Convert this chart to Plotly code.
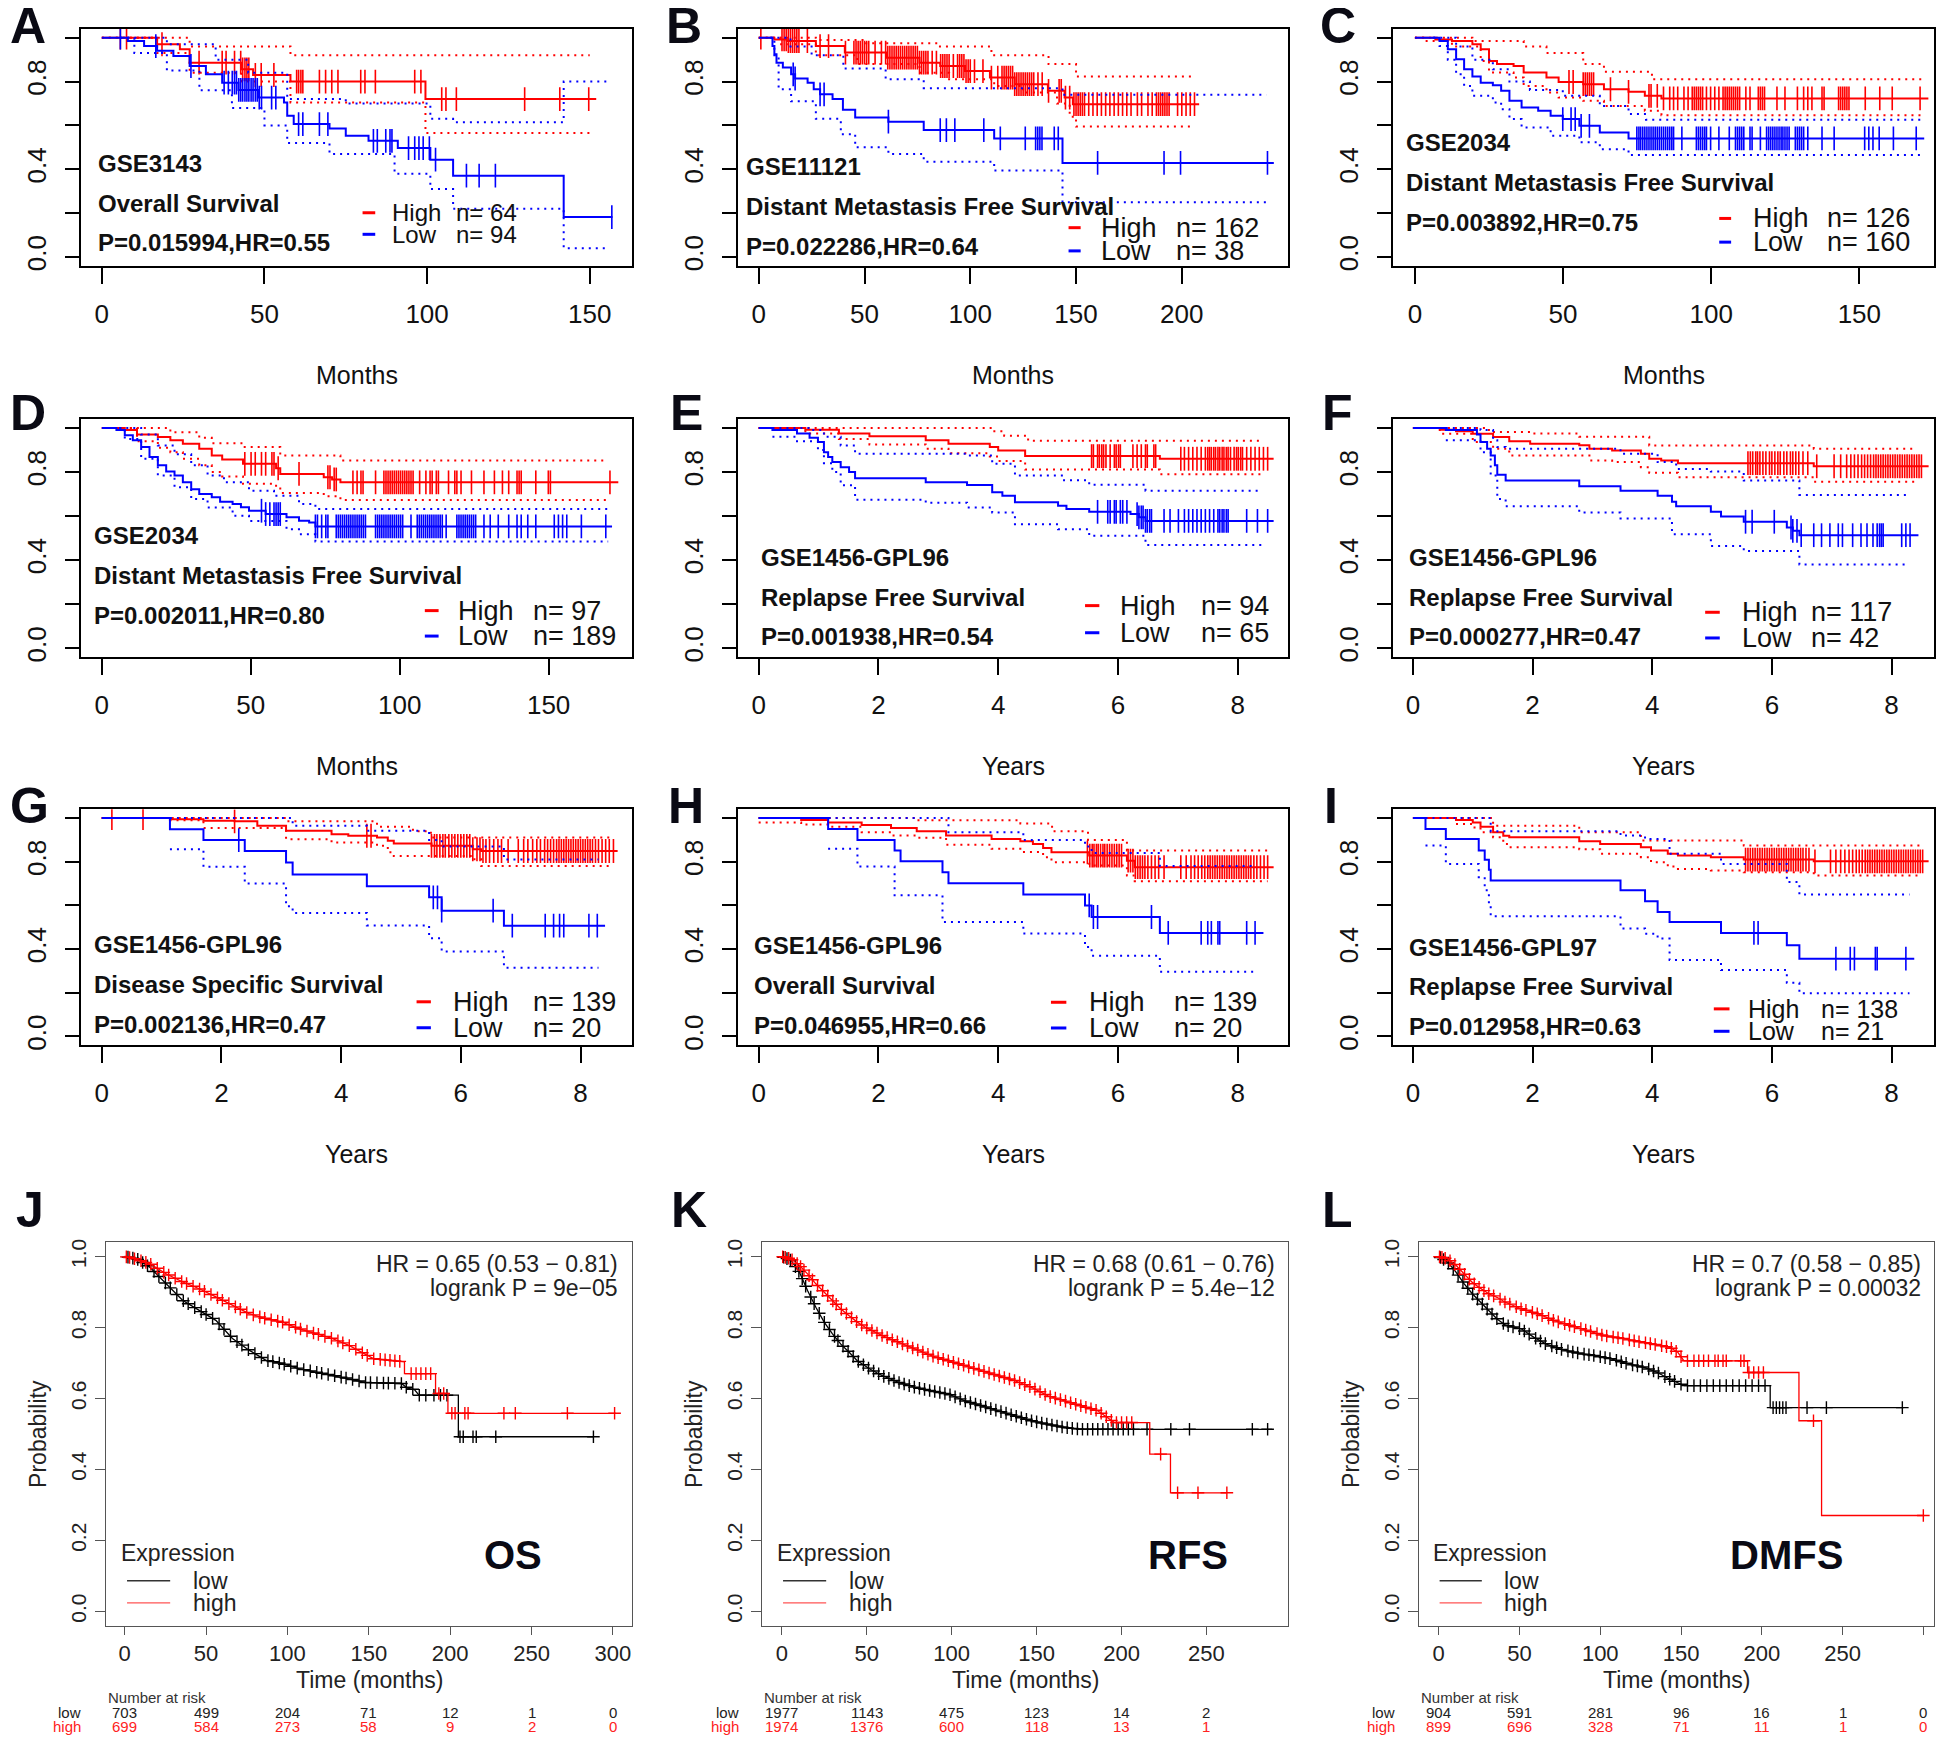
import numpy as np
import plotly.graph_objects as go

# ======================= DATA =======================
# ---- Panel A (GSE3143, months) ----
A_hi_t = [0, 17, 24, 27, 43, 46.5, 58, 99.5, 152]
A_hi_s = [1, 0.97, 0.947, 0.886, 0.856, 0.83, 0.80, 0.72, 0.72]
A_hi_c = [5.7, 7.6, 18.5, 29.9, 37, 38.2, 40.8, 42.7, 43.3, 44, 44.6, 45.2, 47.2, 49, 52.9, 59.9, 60.5, 61.2, 61.8,
          66.9, 68.8, 70.7, 72.6, 79.6, 80.9, 84.1, 96.2, 98.1, 104.5, 105.8, 109, 130, 140.8, 149.7]
A_hi_ut = [0, 27, 58, 150]
A_hi_u = [1, 0.96, 0.92, 0.92]
A_hi_lt = [0, 17, 27, 43, 58, 99.5, 150]
A_hi_l = [1, 0.93, 0.84, 0.80, 0.705, 0.565, 0.565]
A_lo_t = [0, 5.7, 8, 13, 17, 22, 27, 32, 37, 42, 48, 56, 57, 59, 70, 75, 82, 91, 101, 108, 142, 157]
A_lo_s = [1, 1, 0.985, 0.962, 0.94, 0.917, 0.871, 0.833, 0.795, 0.762, 0.727, 0.705, 0.644, 0.606, 0.586, 0.553,
          0.53, 0.497, 0.444, 0.371, 0.182, 0.182]
A_lo_c = [5.7, 16.6, 27.4, 37.6, 38.9, 40.1, 40.8, 41.4, 42.1, 42.7, 43.3, 44, 44.6, 45.2, 45.9, 46.5, 47.2, 47.8,
          48.4, 49.1, 52.2, 53.5, 60.5, 61.8, 66.9, 69.5, 83.5, 84.7, 87.3, 88.6, 89.2, 94.3, 96.2, 97.5, 98.8,
          100.7, 102.6, 112.1, 116, 121, 156.8]
A_lo_ut = [5.7, 20, 35, 45, 57, 75, 101, 108, 142, 156]
A_lo_u = [1, 0.97, 0.9, 0.84, 0.72, 0.70, 0.63, 0.615, 0.80, 0.80]
A_lo_lt = [5.7, 10, 20, 30, 40, 50, 57, 70, 90, 101, 108, 142, 156]
A_lo_l = [1, 0.93, 0.85, 0.76, 0.68, 0.6, 0.52, 0.47, 0.38, 0.31, 0.22, 0.04, 0.04]

# ---- Panel B (GSE11121, months) ----
B_hi_t = [0, 7.4, 13.3, 27, 40.7, 60.3, 76, 85.8, 97.5, 109.3, 121, 136.7, 144.6, 148.5, 208.2]
B_hi_s = [1, 0.992, 0.985, 0.962, 0.932, 0.909, 0.886, 0.871, 0.848, 0.818, 0.788, 0.758, 0.727, 0.697, 0.697]
B_hi_c = [1, 11, 12, 13, 14, 15, 16, 17, 18, 19, 23, 29, 33, 41, 45, 46, 47, 48, 49, 50, 51, 52, 55, 58, 60, 61,
          62, 63, 64, 65, 66, 67, 68, 69, 70, 71, 72, 73, 74, 75, 76, 77, 78, 79, 80, 82, 84, 86, 87, 88, 89, 90,
          92, 94, 95, 96, 97, 98, 99, 100, 102, 106, 110, 113, 115, 116, 117, 118, 119, 120, 121, 122, 123, 124,
          125, 126, 127, 128, 129, 130, 132, 134, 137, 142, 143, 145, 147, 149, 150, 151, 152, 153, 154, 156, 158,
          160, 162, 164, 166, 168, 170, 172, 174, 176, 179, 181, 184, 186, 188, 189, 190, 191, 192, 193, 194, 198,
          200, 202, 204, 206]
B_hi_ut = [0, 27, 50, 85, 110, 137, 150, 205]
B_hi_u = [1, 0.99, 0.975, 0.96, 0.92, 0.88, 0.823, 0.823]
B_hi_lt = [0, 10, 27, 46.6, 76, 90, 111.3, 125, 141, 147, 150, 205]
B_hi_l = [1, 0.97, 0.92, 0.88, 0.84, 0.81, 0.78, 0.75, 0.70, 0.64, 0.595, 0.595]
B_lo_t = [0, 5.5, 6.5, 7.4, 8.4, 11.4, 15.3, 17.2, 23.1, 26, 29, 34.9, 39.8, 45.6, 61.3, 78, 111.3, 143.6, 243.5]
B_lo_s = [1, 1, 0.962, 0.924, 0.886, 0.864, 0.833, 0.814, 0.795, 0.765, 0.742, 0.72, 0.671, 0.636, 0.617, 0.579,
          0.541, 0.429, 0.429]
B_lo_c = [16.3, 17.2, 29, 30.9, 61.3, 85.8, 88.7, 92.7, 106.4, 114.2, 126, 130.9, 131.9, 132.9, 133.9, 139.7,
          141.6, 160.2, 191.6, 199.4, 240.5]
B_lo_ut = [5.5, 15, 25, 40, 60, 78, 143.6, 240]
B_lo_u = [1, 0.96, 0.92, 0.86, 0.81, 0.77, 0.74, 0.74]
B_lo_lt = [5.5, 7.4, 9.4, 15.3, 27, 38.8, 45.6, 61.3, 78, 111.3, 143.6, 240]
B_lo_l = [1, 0.92, 0.765, 0.71, 0.63, 0.56, 0.5, 0.47, 0.435, 0.394, 0.25, 0.25]

# ---- Panel C (GSE2034, months) ----
C_hi_t = [0, 2.8, 6.9, 12.5, 19.4, 22.2, 25, 27.7, 33.3, 36.7, 44.4, 48.5, 56.8, 63.8, 72.1, 77.6, 83.2, 173.3]
C_hi_s = [1, 1, 0.992, 0.985, 0.97, 0.947, 0.894, 0.88, 0.871, 0.841, 0.818, 0.798, 0.788, 0.765, 0.753, 0.735,
          0.723, 0.723]
C_hi_c = [52, 53.4, 56.8, 57.5, 58.2, 58.9, 59.6, 60.3, 66, 72.1, 79, 79.7, 81.8, 83.9, 86, 87.3, 88.7, 90.8, 92.2,
          93.6, 94.3, 95, 95.7, 96.4, 97.1, 98.4, 99.8, 101.2, 102.6, 104, 104.7, 105.4, 106.1, 106.8, 107.5, 108.2,
          108.9, 109.6, 111.7, 113.1, 115.9, 116.6, 117.3, 118, 122.2, 124.9, 129.1, 131.2, 132.6, 134, 137.4,
          138.1, 143, 143.7, 144.4, 145.1, 145.8, 146.5, 152, 156.9, 161.1, 170.5]
C_hi_ut = [0, 19.4, 36.7, 44.4, 56.8, 63.8, 80, 171]
C_hi_u = [1, 0.985, 0.96, 0.93, 0.88, 0.845, 0.81, 0.81]
C_hi_lt = [0, 2.8, 12.5, 22.2, 25, 33.3, 36.7, 44.4, 48.5, 56.8, 63.8, 77.6, 83.2, 171]
C_hi_l = [1, 0.985, 0.96, 0.894, 0.841, 0.818, 0.78, 0.75, 0.727, 0.712, 0.689, 0.667, 0.647, 0.647]
C_lo_t = [0, 6.2, 8.3, 11.1, 13.9, 16.6, 19.4, 22.2, 26.3, 29.1, 31.9, 36, 41.6, 45.8, 49.9, 55.5, 62.4, 72.1, 171.9]
C_lo_s = [1, 1, 0.985, 0.947, 0.902, 0.856, 0.823, 0.795, 0.783, 0.758, 0.712, 0.682, 0.667, 0.644, 0.629, 0.598,
          0.568, 0.541, 0.541]
C_lo_c = [49.9, 52.7, 54.1, 56.1, 58.9, 74.9, 75.6, 76.2, 76.9, 77.6, 78.3, 79, 79.7, 80.4, 81.1, 81.8, 82.5, 83.2,
          83.9, 84.6, 85.3, 86, 86.7, 87.3, 90.1, 95, 95.7, 96.4, 97.1, 97.8, 98.4, 99.8, 102.6, 106.1, 108.2, 108.9,
          109.6, 110.3, 111, 113.1, 113.8, 116.6, 118.7, 119.4, 120.1, 120.8, 121.5, 122.2, 122.9, 123.6, 124.2,
          124.9, 125.6, 126.3, 128.4, 129.1, 129.8, 130.5, 131.2, 132.6, 137.4, 141.5, 151.8, 153.2, 154.6, 156.7,
          161.5, 169.2]
C_lo_ut = [6.2, 13.9, 19.4, 26.3, 31.9, 38.8, 49.9, 62.4, 72.1, 78, 171]
C_lo_u = [1, 0.96, 0.9, 0.856, 0.8, 0.762, 0.735, 0.689, 0.652, 0.626, 0.626]
C_lo_lt = [6.2, 8.3, 11.1, 13.9, 16.6, 19.4, 26.3, 29.1, 31.9, 36, 45.8, 55.5, 62.4, 72.1, 171]
C_lo_l = [1, 0.962, 0.9, 0.833, 0.78, 0.735, 0.705, 0.674, 0.629, 0.591, 0.553, 0.523, 0.492, 0.465, 0.465]

# ---- Panel D (GSE2034, months) ----
D_hi_t = [0, 6.3, 7.7, 11.8, 18.8, 23, 27.2, 32.7, 36.9, 40.4, 47.4, 58.5, 59.9, 74.5, 77.3, 80.1, 173.4]
D_hi_s = [1, 1, 0.99, 0.97, 0.959, 0.944, 0.928, 0.906, 0.875, 0.857, 0.837, 0.817, 0.791, 0.776, 0.766, 0.753, 0.753]
D_hi_c = [48, 50.1, 51.5, 53.6, 55, 57.1, 57.8, 59.2, 66.2, 75.9, 76.6, 78, 78.7, 84.3, 85.7, 87, 87.7, 91.9, 94.7,
          95.4, 96.1, 96.8, 97.5, 98.2, 98.9, 99.6, 100.3, 101, 101.7, 102.4, 103.1, 103.8, 104.5, 106.7, 108.8,
          110.2, 110.9, 112.3, 113, 116.4, 118.5, 119.2, 120.6, 124.1, 128.3, 131.8, 134.5, 136.6, 139.4, 140.1,
          140.8, 145.7, 149.9, 150.6, 170.6]
D_hi_ut = [0, 23, 32.7, 36.9, 47.4, 59.9, 80.1, 170]
D_hi_u = [1, 0.98, 0.955, 0.93, 0.913, 0.875, 0.852, 0.852]
D_hi_lt = [0, 11.8, 18.8, 23, 27.2, 32.7, 36.9, 40.4, 47.4, 58.5, 59.9, 74.5, 80.1, 170]
D_hi_l = [1, 0.94, 0.91, 0.89, 0.86, 0.83, 0.8, 0.78, 0.746, 0.725, 0.705, 0.69, 0.673, 0.673]
D_lo_t = [0, 3.5, 4.9, 7.7, 10.4, 13.2, 16, 18.8, 21.6, 24.4, 27.2, 30, 32.7, 36.9, 39.7, 43.9, 46.7, 49.4, 55, 62,
          66.2, 69.6, 71.7, 171.3]
D_lo_s = [1, 1, 0.99, 0.967, 0.944, 0.913, 0.868, 0.83, 0.802, 0.784, 0.753, 0.722, 0.7, 0.685, 0.665, 0.655, 0.64,
          0.624, 0.609, 0.594, 0.579, 0.571, 0.553, 0.553]
D_lo_c = [53.6, 55, 56.4, 57.8, 58.5, 59.2, 59.9, 71.7, 72.4, 73.8, 75.2, 75.9, 78.7, 79.4, 80.1, 80.8, 81.5, 82.2,
          82.9, 83.6, 84.3, 85, 85.7, 86.4, 87.1, 87.8, 88.5, 91.9, 92.6, 93.3, 94, 94.7, 95.4, 96.1, 96.8, 97.5,
          98.2, 98.9, 99.6, 100.3, 101, 103.8, 105.9, 106.6, 107.3, 108, 108.7, 109.4, 110.1, 110.8, 111.5, 112.2,
          112.9, 113.6, 114.3, 115.6, 119.2, 119.9, 120.6, 121.3, 122, 122.7, 123.4, 124.1, 124.8, 125.5, 128.3,
          130.4, 133.1, 136.6, 139.4, 140.8, 143, 145.7, 151.9, 153.3, 154.7, 156.1, 161, 169.2]
D_lo_ut = [3.5, 13.2, 18.8, 24.4, 30, 35.5, 41, 49.4, 57.8, 66.2, 71.7, 170]
D_lo_u = [1, 0.97, 0.92, 0.88, 0.83, 0.784, 0.753, 0.715, 0.692, 0.655, 0.632, 0.632]
D_lo_lt = [3.5, 7.7, 13.2, 18.8, 24.4, 30, 35.5, 43.9, 49.4, 62, 66.2, 71.7, 170]
D_lo_l = [1, 0.95, 0.86, 0.784, 0.731, 0.677, 0.639, 0.601, 0.578, 0.54, 0.517, 0.484, 0.484]

# ---- Panel E (GSE1456-GPL96 RFS, years) ----
E_hi_t = [0, 0.78, 1.34, 1.85, 2.79, 3.17, 3.86, 4.0, 4.45, 6.7, 8.6]
E_hi_s = [1, 0.992, 0.975, 0.962, 0.944, 0.928, 0.913, 0.898, 0.872, 0.86, 0.86]
E_hi_c = [5.56, 5.59, 5.66, 5.69, 5.73, 5.76, 5.8, 5.87, 5.94, 5.97, 6.01, 6.04, 6.25, 6.32, 6.39, 6.46, 6.49, 6.6,
          6.63, 7.05, 7.11, 7.18, 7.25, 7.32, 7.39, 7.46, 7.5, 7.53, 7.56, 7.6, 7.63, 7.67, 7.7, 7.74, 7.77, 7.81,
          7.84, 7.88, 7.94, 7.98, 8.01, 8.05, 8.08, 8.15, 8.22, 8.29, 8.36, 8.43, 8.5]
E_hi_ut = [0, 3.9, 4.1, 4.5, 8.4]
E_hi_u = [1, 0.985, 0.965, 0.942, 0.942]
E_hi_lt = [0, 0.78, 1.34, 1.85, 2.79, 3.17, 3.86, 4.0, 4.45, 6.7, 8.4]
E_hi_l = [1, 0.975, 0.95, 0.925, 0.905, 0.885, 0.87, 0.85, 0.811, 0.79, 0.79]
E_lo_t = [0, 0.23, 0.64, 0.85, 0.99, 1.09, 1.16, 1.23, 1.37, 1.51, 1.61, 2.79, 3.48, 3.9, 4.07, 4.28, 5.0, 5.14,
          5.52, 6.21, 6.35, 6.46, 8.6]
E_lo_s = [1, 0.99, 0.975, 0.955, 0.936, 0.89, 0.868, 0.845, 0.822, 0.8, 0.772, 0.753, 0.741, 0.708, 0.692, 0.662,
          0.647, 0.632, 0.619, 0.609, 0.594, 0.578, 0.578]
E_lo_c = [5.66, 5.83, 5.87, 5.94, 5.97, 6.04, 6.08, 6.15, 6.32, 6.35, 6.39, 6.42, 6.46, 6.49, 6.53, 6.56, 6.77, 6.87,
          7.01, 7.11, 7.18, 7.25, 7.32, 7.39, 7.46, 7.53, 7.6, 7.67, 7.7, 7.74, 7.77, 7.81, 7.84, 8.15, 8.33, 8.5]
E_lo_ut = [0.23, 0.85, 1.09, 1.37, 1.61, 3.48, 3.9, 4.28, 5.1, 5.52, 6.46, 8.4]
E_lo_u = [1, 0.99, 0.96, 0.92, 0.883, 0.875, 0.837, 0.784, 0.762, 0.742, 0.715, 0.715]
E_lo_lt = [0.23, 0.64, 0.99, 1.09, 1.23, 1.37, 1.61, 2.79, 3.48, 3.9, 4.28, 5.0, 5.52, 6.46, 8.4]
E_lo_l = [0.96, 0.94, 0.9, 0.84, 0.8, 0.74, 0.674, 0.66, 0.639, 0.616, 0.563, 0.54, 0.51, 0.469, 0.469]

# ---- Panel F (GSE1456-GPL96 RFS, years) ----
F_hi_t = [0, 0.45, 0.72, 1.0, 1.34, 1.61, 1.96, 2.78, 2.95, 3.33, 3.81, 3.95, 4.15, 4.43, 6.7, 8.62]
F_hi_s = [1, 0.992, 0.985, 0.974, 0.959, 0.939, 0.928, 0.921, 0.906, 0.898, 0.883, 0.86, 0.852, 0.84, 0.826, 0.826]
F_hi_c = [5.6, 5.64, 5.68, 5.73, 5.76, 5.8, 5.85, 5.9, 5.96, 6.0, 6.05, 6.1, 6.14, 6.2, 6.25, 6.31, 6.35, 6.4, 6.45,
          6.52, 6.6, 6.75, 7.04, 7.15, 7.25, 7.32, 7.38, 7.44, 7.5, 7.55, 7.6, 7.65, 7.7, 7.74, 7.78, 7.82, 7.86,
          7.9, 7.94, 7.98, 8.02, 8.06, 8.1, 8.14, 8.18, 8.22, 8.26, 8.3, 8.34, 8.38, 8.42, 8.46, 8.5]
F_hi_ut = [0, 1.27, 1.96, 2.78, 3.95, 6.7, 8.4]
F_hi_u = [1, 0.982, 0.975, 0.96, 0.92, 0.906, 0.906]
F_hi_lt = [0, 0.45, 1.0, 1.34, 1.61, 2.95, 3.33, 3.81, 3.95, 4.43, 6.7, 8.4]
F_hi_l = [1, 0.974, 0.936, 0.906, 0.875, 0.852, 0.845, 0.822, 0.796, 0.776, 0.756, 0.756]
F_lo_t = [0, 0.55, 1.07, 1.13, 1.24, 1.3, 1.37, 1.41, 1.55, 2.78, 3.47, 4.09, 4.33, 4.4, 4.98, 5.15, 5.53, 6.25,
          6.35, 6.46, 8.45]
F_lo_s = [1, 0.99, 0.97, 0.936, 0.906, 0.875, 0.83, 0.787, 0.761, 0.735, 0.715, 0.692, 0.665, 0.644, 0.619, 0.598,
          0.574, 0.548, 0.533, 0.513, 0.513]
F_lo_c = [5.56, 5.67, 6.04, 6.32, 6.35, 6.42, 6.49, 6.7, 6.83, 6.97, 7.11, 7.18, 7.35, 7.49, 7.59, 7.69, 7.76, 7.8,
          7.83, 7.86, 8.17, 8.24, 8.31]
F_lo_ut = [0.55, 1.13, 1.34, 1.41, 1.55, 3.47, 4.09, 4.4, 4.98, 5.53, 6.46, 8.25]
F_lo_u = [1, 0.99, 0.944, 0.913, 0.906, 0.883, 0.845, 0.814, 0.802, 0.761, 0.696, 0.696]
F_lo_lt = [0.55, 1.13, 1.3, 1.41, 1.55, 2.78, 3.47, 4.33, 4.98, 5.53, 6.46, 8.25]
F_lo_l = [0.944, 0.89, 0.784, 0.677, 0.644, 0.616, 0.589, 0.517, 0.464, 0.441, 0.38, 0.38]

# ---- Panel G (GSE1456-GPL96 DSS, years) ----
G_hi_t = [0, 1.14, 1.7, 2.22, 2.6, 3.08, 3.84, 4.12, 4.6, 4.78, 4.88, 5.51, 6.2, 6.34, 8.62]
G_hi_s = [1, 0.995, 0.988, 0.985, 0.965, 0.942, 0.926, 0.919, 0.911, 0.896, 0.883, 0.873, 0.857, 0.849, 0.849]
G_hi_c = [0.17, 0.69, 2.22, 4.43, 4.5, 5.51, 5.56, 5.6, 5.65, 5.7, 5.74, 5.8, 5.85, 5.9, 5.95, 6.0, 6.05, 6.1, 6.15,
          6.2, 6.27, 6.32, 6.37, 6.42, 6.48, 6.55, 6.62, 6.68, 6.79, 6.96, 7.05, 7.12, 7.2, 7.27, 7.33, 7.4, 7.45,
          7.5, 7.55, 7.6, 7.64, 7.68, 7.72, 7.76, 7.8, 7.84, 7.88, 7.92, 7.96, 8.0, 8.04, 8.08, 8.12, 8.16, 8.2,
          8.25, 8.3, 8.36, 8.42, 8.48, 8.55]
G_hi_ut = [0, 3.08, 4.6, 5.2, 5.5, 8.5]
G_hi_u = [1, 0.985, 0.96, 0.94, 0.911, 0.911]
G_hi_lt = [0, 1.14, 1.7, 3.08, 3.84, 4.6, 4.78, 4.88, 6.2, 6.34, 8.5]
G_hi_l = [1, 0.99, 0.954, 0.903, 0.888, 0.873, 0.843, 0.826, 0.811, 0.78, 0.78]
G_lo_t = [0, 1.14, 1.7, 2.39, 3.08, 3.19, 4.43, 5.47, 5.68, 6.72, 8.41]
G_lo_s = [1, 0.949, 0.899, 0.849, 0.796, 0.742, 0.688, 0.637, 0.576, 0.507, 0.507]
G_lo_c = [2.29, 5.54, 5.61, 5.68, 6.54, 6.86, 7.41, 7.55, 7.65, 7.72, 8.14, 8.28]
G_lo_ut = [1.14, 3.19, 4.43, 5.47, 5.68, 6.72, 8.3]
G_lo_u = [1, 0.965, 0.942, 0.9, 0.87, 0.81, 0.81]
G_lo_lt = [1.14, 1.7, 2.39, 3.08, 3.19, 4.43, 5.47, 5.68, 6.72, 8.3]
G_lo_l = [0.857, 0.777, 0.7, 0.596, 0.565, 0.508, 0.45, 0.389, 0.315, 0.315]

# ---- Panel H (GSE1456-GPL96 OS, years) ----
H_hi_t = [0, 0.71, 1.16, 1.72, 2.21, 2.64, 3.13, 3.89, 4.37, 4.58, 4.75, 4.89, 5.52, 6.15, 6.28, 8.6]
H_hi_s = [1, 0.991, 0.98, 0.968, 0.954, 0.939, 0.92, 0.904, 0.894, 0.881, 0.863, 0.843, 0.828, 0.805, 0.775, 0.775]
H_hi_c = [5.49, 5.53, 5.57, 5.6, 5.64, 5.67, 5.71, 5.75, 5.78, 5.82, 5.86, 5.9, 5.94, 5.98, 6.02, 6.06, 6.17, 6.21,
          6.25, 6.29, 6.33, 6.37, 6.41, 6.45, 6.5, 6.56, 6.62, 6.68, 6.77, 7.05, 7.14, 7.22, 7.28, 7.34, 7.4, 7.45,
          7.5, 7.54, 7.58, 7.62, 7.66, 7.7, 7.74, 7.78, 7.82, 7.86, 7.9, 7.94, 7.98, 8.02, 8.06, 8.1, 8.14, 8.18,
          8.22, 8.27, 8.32, 8.38, 8.44, 8.5]
H_hi_ut = [0, 2.64, 4.37, 4.9, 5.5, 6.15, 8.5]
H_hi_u = [1, 0.99, 0.975, 0.94, 0.9, 0.851, 0.851]
H_hi_lt = [0, 0.71, 1.16, 1.72, 2.21, 2.64, 3.13, 3.89, 4.37, 4.75, 4.89, 5.52, 6.15, 6.28, 8.5]
H_hi_l = [0.98, 0.97, 0.96, 0.935, 0.92, 0.91, 0.878, 0.859, 0.844, 0.821, 0.798, 0.783, 0.737, 0.711, 0.711]
H_lo_t = [0, 1.16, 1.65, 2.27, 2.37, 3.07, 3.17, 4.42, 5.45, 5.56, 6.7, 8.43]
H_lo_s = [1, 0.95, 0.9, 0.851, 0.802, 0.752, 0.702, 0.65, 0.6, 0.547, 0.474, 0.474]
H_lo_c = [5.52, 5.59, 5.66, 6.56, 6.84, 7.39, 7.5, 7.56, 7.67, 7.7, 8.15, 8.29]
H_lo_ut = [0, 3.07, 3.17, 4.42, 5.45, 5.56, 6.7, 8.3]
H_lo_u = [1, 1, 0.935, 0.9, 0.87, 0.84, 0.78, 0.78]
H_lo_lt = [1.16, 1.65, 2.27, 3.07, 4.42, 5.45, 5.56, 6.7, 8.3]
H_lo_l = [0.859, 0.778, 0.646, 0.524, 0.471, 0.41, 0.369, 0.296, 0.296]

# ---- Panel I (GSE1456-GPL97 RFS, years) ----
I_hi_t = [0, 0.72, 1.0, 1.13, 1.34, 1.51, 1.61, 2.78, 3.13, 3.81, 3.98, 4.26, 4.43, 4.98, 5.53, 6.7, 8.62]
I_hi_s = [1, 0.991, 0.98, 0.96, 0.935, 0.919, 0.912, 0.894, 0.881, 0.866, 0.851, 0.836, 0.828, 0.821, 0.81, 0.802,
          0.802]
I_hi_c = [5.56, 5.6, 5.64, 5.68, 5.72, 5.76, 5.8, 5.84, 5.88, 5.92, 5.96, 6.0, 6.04, 6.08, 6.12, 6.16, 6.2, 6.24,
          6.28, 6.32, 6.36, 6.4, 6.44, 6.48, 6.52, 6.57, 6.62, 6.72, 6.98, 7.07, 7.15, 7.22, 7.29, 7.35, 7.41, 7.46,
          7.51, 7.56, 7.6, 7.64, 7.68, 7.72, 7.76, 7.8, 7.84, 7.88, 7.92, 7.96, 8.0, 8.04, 8.08, 8.12, 8.16, 8.2,
          8.24, 8.28, 8.32, 8.36, 8.4, 8.44, 8.48, 8.52]
I_hi_ut = [0, 1.34, 2.78, 3.81, 5.53, 8.5]
I_hi_u = [1, 0.965, 0.935, 0.897, 0.874, 0.874]
I_hi_lt = [0, 0.72, 1.0, 1.13, 1.34, 1.51, 1.61, 2.78, 3.13, 3.81, 3.98, 4.26, 4.43, 4.98, 5.53, 6.7, 8.5]
I_hi_l = [1, 0.973, 0.957, 0.935, 0.912, 0.881, 0.866, 0.857, 0.836, 0.821, 0.798, 0.778, 0.767, 0.76, 0.752, 0.737,
          0.737]
I_lo_t = [0, 0.21, 0.55, 1.1, 1.2, 1.27, 1.3, 3.47, 3.88, 4.09, 4.29, 5.15, 6.25, 6.46, 8.38]
I_lo_s = [1, 0.95, 0.904, 0.851, 0.809, 0.763, 0.714, 0.669, 0.619, 0.57, 0.524, 0.474, 0.418, 0.356, 0.356]
I_lo_c = [5.7, 5.77, 7.07, 7.31, 7.38, 7.73, 7.76, 8.24]
I_lo_ut = [0.21, 1.3, 3.47, 3.88, 4.29, 5.15, 6.25, 6.46, 8.3]
I_lo_u = [1, 0.94, 0.92, 0.904, 0.836, 0.79, 0.707, 0.65, 0.65]
I_lo_lt = [0.21, 0.55, 1.1, 1.2, 1.27, 1.3, 3.47, 3.88, 4.09, 4.29, 5.15, 6.25, 6.46, 8.3]
I_lo_l = [0.874, 0.79, 0.729, 0.669, 0.608, 0.55, 0.494, 0.47, 0.448, 0.35, 0.304, 0.246, 0.198, 0.198]

# ---- Panel J (KM plotter OS, months) ----
J_lo_t = [0, 7.6, 15.3, 25.5, 35.7, 45.8, 56, 66.2, 76.4, 86.6, 96.8, 106.9, 122.2, 137.5, 147.7, 170, 174, 178,
          180.8, 205, 205, 287.8]
J_lo_s = [1, 0.993, 0.97, 0.923, 0.876, 0.848, 0.82, 0.769, 0.736, 0.708, 0.698, 0.684, 0.67, 0.656, 0.645, 0.642,
          0.628, 0.625, 0.609, 0.609, 0.492, 0.492]
J_lo_c = [2, 5, 8, 11, 14, 18, 21, 25, 28, 32, 36, 39, 43, 47, 50, 54, 58, 61, 65, 69, 72, 76, 80, 84, 88, 91, 95,
          98, 102, 106, 110, 114, 118, 121, 125, 129, 133, 136, 140, 144, 148, 151, 155, 159, 162, 166, 170, 173,
          177, 181, 185, 190, 194, 198, 206, 208, 214, 216, 228, 288]
J_hi_t = [0, 5.1, 15.3, 25.5, 35.7, 45.8, 56, 66.2, 76.4, 86.6, 96.8, 106.9, 117.1, 127.3, 137.5, 145.1, 152.8,
          171.9, 171.9, 191, 191, 198.6, 198.6, 301.8]
J_hi_s = [1, 0.995, 0.98, 0.951, 0.928, 0.909, 0.886, 0.862, 0.839, 0.825, 0.815, 0.797, 0.783, 0.769, 0.75, 0.731,
          0.712, 0.703, 0.67, 0.67, 0.614, 0.614, 0.558, 0.558]
J_hi_c = [1, 3, 6, 10, 13, 16, 20, 24, 27, 31, 35, 38, 42, 46, 49, 53, 57, 60, 64, 68, 71, 75, 79, 83, 86, 90, 94,
          97, 101, 105, 108, 112, 116, 119, 123, 127, 131, 134, 138, 142, 146, 149, 153, 157, 160, 163, 166, 169,
          176, 179, 182, 185, 188, 193, 196, 201, 203, 209, 211, 233, 240, 272, 301]

# ---- Panel K (KM plotter RFS, months) ----
K_lo_t = [0, 5.4, 10.3, 15.1, 20, 24.9, 29.8, 34.7, 39.6, 44.4, 51.8, 59.1, 68.8, 78.6, 88.4, 98.1, 107.9, 117.7,
          127.4, 137.2, 147, 156.7, 166.5, 176.3, 288.6]
K_lo_s = [1, 0.989, 0.956, 0.904, 0.857, 0.815, 0.782, 0.753, 0.73, 0.706, 0.683, 0.664, 0.645, 0.631, 0.621, 0.612,
          0.593, 0.579, 0.565, 0.551, 0.537, 0.527, 0.518, 0.513, 0.513]
K_lo_c = [1, 3, 5, 8, 10, 12, 14, 17, 19, 22, 25, 28, 31, 33, 36, 39, 42, 45, 48, 51, 54, 57, 60, 63, 66, 69, 72, 75,
          78, 81, 84, 87, 90, 93, 96, 99, 102, 105, 108, 111, 114, 117, 120, 123, 126, 129, 132, 135, 138, 141,
          144, 147, 150, 153, 156, 159, 162, 165, 168, 171, 174, 177, 180, 183, 186, 189, 192, 195, 198, 201, 204,
          207, 215, 229, 240, 277, 286]
K_hi_t = [0, 5.4, 10.3, 15.1, 20, 24.9, 29.8, 34.7, 39.6, 44.4, 49.3, 59.1, 68.8, 78.6, 88.4, 98.1, 107.9, 117.7,
          127.4, 137.2, 147, 156.7, 166.5, 176.3, 186, 195.8, 216.6, 216.6, 228.8, 228.8, 261.7]
K_hi_s = [1, 0.993, 0.975, 0.951, 0.923, 0.899, 0.876, 0.852, 0.833, 0.815, 0.8, 0.777, 0.758, 0.739, 0.72, 0.706,
          0.692, 0.678, 0.664, 0.65, 0.631, 0.607, 0.593, 0.579, 0.565, 0.532, 0.532, 0.443, 0.443, 0.334, 0.334]
K_hi_c = [0.5, 2, 4, 6, 9, 11, 13, 16, 18, 21, 24, 27, 30, 32, 35, 38, 41, 44, 47, 50, 53, 56, 59, 62, 65, 68, 71,
          74, 77, 80, 83, 86, 89, 92, 95, 98, 101, 104, 107, 110, 113, 116, 119, 122, 125, 128, 131, 134, 137, 140,
          143, 146, 149, 152, 155, 158, 161, 164, 167, 170, 173, 176, 179, 182, 185, 188, 191, 194, 197, 200, 203,
          206, 223, 233, 245, 262]

# ---- Panel L (KM plotter DMFS, months) ----
L_lo_t = [0, 5.6, 10.7, 15.8, 20.8, 25.9, 31, 36.1, 41.2, 51.4, 59, 66.6, 76.8, 87, 97.2, 107.4, 117.6, 127.7,
          135.4, 143, 152, 205.2, 205.2, 287.8]
L_lo_s = [1, 0.984, 0.956, 0.923, 0.895, 0.871, 0.847, 0.824, 0.807, 0.795, 0.772, 0.753, 0.737, 0.727, 0.72, 0.711,
          0.697, 0.687, 0.673, 0.654, 0.636, 0.636, 0.574, 0.574]
L_lo_c = [1, 3, 6, 9, 12, 15, 18, 21, 24, 27, 30, 33, 36, 40, 43, 46, 50, 53, 56, 60, 63, 66, 70, 73, 76, 80, 83, 86,
          90, 93, 96, 100, 103, 106, 110, 113, 116, 120, 123, 126, 130, 133, 136, 140, 143, 146, 150, 154, 158,
          162, 166, 170, 174, 178, 182, 186, 190, 194, 198, 202, 207, 209, 211, 213, 215, 228, 240, 287]
L_hi_t = [0, 5.6, 10.7, 15.8, 20.8, 25.9, 31, 36.1, 41.2, 51.4, 61.5, 71.7, 81.9, 92.1, 102.3, 112.5, 122.6, 132.8,
          143, 148, 151.8, 191.2, 191.2, 223, 223, 237, 237, 300.5]
L_hi_s = [1, 0.993, 0.975, 0.951, 0.927, 0.91, 0.895, 0.885, 0.871, 0.852, 0.838, 0.819, 0.805, 0.791, 0.777, 0.77,
          0.761, 0.753, 0.744, 0.73, 0.706, 0.706, 0.673, 0.673, 0.537, 0.537, 0.27, 0.27]
L_hi_c = [0.5, 2, 4, 7, 10, 13, 16, 19, 22, 25, 28, 31, 34, 38, 41, 44, 48, 51, 54, 58, 61, 64, 68, 71, 74, 78, 81,
          84, 88, 91, 94, 98, 101, 104, 108, 111, 114, 118, 121, 124, 128, 131, 134, 138, 141, 144, 147, 150, 154,
          158, 161, 164, 167, 171, 173, 176, 178, 187, 189, 192, 195, 198, 201, 232, 300]

# ---- texts ----
PANEL_LETTERS = ['A', 'B', 'C', 'D', 'E', 'F', 'G', 'H', 'I', 'J', 'K', 'L']
GSE_NAMES = ['GSE3143', 'GSE11121', 'GSE2034', 'GSE2034', 'GSE1456-GPL96', 'GSE1456-GPL96', 'GSE1456-GPL96',
             'GSE1456-GPL96', 'GSE1456-GPL97']
SURV_TYPES = ['Overall Survival', 'Distant Metastasis Free Survival', 'Distant Metastasis Free Survival',
              'Distant Metastasis Free Survival', 'Replapse Free Survival', 'Replapse Free Survival',
              'Disease Specific Survival', 'Overall Survival', 'Replapse Free Survival']
P_TEXTS = ['P=0.015994,HR=0.55', 'P=0.022286,HR=0.64', 'P=0.003892,HR=0.75', 'P=0.002011,HR=0.80',
           'P=0.001938,HR=0.54', 'P=0.000277,HR=0.47', 'P=0.002136,HR=0.47', 'P=0.046955,HR=0.66',
           'P=0.012958,HR=0.63']
N_HIGH = [64, 162, 126, 97, 94, 117, 139, 139, 138]
N_LOW = [94, 38, 160, 189, 65, 42, 20, 20, 21]
X_TITLES = ['Months', 'Months', 'Months', 'Months', 'Years', 'Years', 'Years', 'Years', 'Years']
X_TICKS_TOP = [[0, 50, 100, 150], [0, 50, 100, 150, 200], [0, 50, 100, 150], [0, 50, 100, 150],
               [0, 2, 4, 6, 8], [0, 2, 4, 6, 8], [0, 2, 4, 6, 8], [0, 2, 4, 6, 8], [0, 2, 4, 6, 8]]
Y_TICKS = [0, 0.2, 0.4, 0.6, 0.8, 1.0]
Y_TICKTEXT_TOP = ['0.0', '', '0.4', '', '0.8', '']
Y_TICKTEXT_KM = ['0.0', '0.2', '0.4', '0.6', '0.8', '1.0']

HR_TEXTS = ['HR = 0.65 (0.53 \u2212 0.81)', 'HR = 0.68 (0.61 \u2212 0.76)', 'HR = 0.7 (0.58 \u2212 0.85)']
LOGRANK_TEXTS = ['logrank P = 9e\u221205', 'logrank P = 5.4e\u221212', 'logrank P = 0.00032']
ENDPOINTS = ['OS', 'RFS', 'DMFS']
RISK_TIMES = [[0, 50, 100, 150, 200, 250, 300], [0, 50, 100, 150, 200, 250], [0, 50, 100, 150, 200, 250, 300]]
RISK_LOW = [[703, 499, 204, 71, 12, 1, 0], [1977, 1143, 475, 123, 14, 2], [904, 591, 281, 96, 16, 1, 0]]
RISK_HIGH = [[699, 584, 273, 58, 9, 2, 0], [1974, 1376, 600, 118, 13, 1], [899, 696, 328, 71, 11, 1, 0]]
X_TICKS_KM = [[0, 50, 100, 150, 200, 250, 300], [0, 50, 100, 150, 200, 250], [0, 50, 100, 150, 200, 250, 300]]

# ======================= LAYOUT / STYLE =======================
VW, VH = 1944, 1749          # browser window
OFF = 8                      # default page body margin
W, H = VW - 2 * OFF, VH - 2 * OFF
RED, BLUE = '#ff0000', '#0000ff'
ARIAL = 'Liberation Sans, Arial, Helvetica, sans-serif'

# box pixel extents in the window (left, right, top, bottom)
BOXES = [(81, 632, 26, 264), (738, 1288, 26, 264), (1393, 1934, 26, 264),
         (81, 632, 418, 657), (738, 1288, 418, 657), (1393, 1934, 418, 657),
         (81, 632, 810, 1047), (738, 1288, 810, 1047), (1393, 1934, 810, 1047),
         (106, 632, 1245, 1630), (762, 1288, 1245, 1630), (1419, 1934, 1245, 1630)]
X_RANGES = [[-6.4, 163], [-9.8, 250.2], [-7.4, 175.2], [-7, 178], [-0.345, 8.84], [-0.333, 8.71],
            [-0.346, 8.86], [-0.345, 8.84], [-0.333, 8.71], [-11.5, 311.7], [-11.7, 298], [-12.2, 306.6]]
LETTER_POS = [(8, 23), (664, 23), (1318, 23), (8, 412), (668, 412), (1320, 412), (8, 807), (666, 807),
              (1322, 807), (14, 1213), (669, 1213), (1320, 1213)]
TXT_POS = [
    (0.028, (0.43, 0.262, 0.098), (0.511, 0.534), 0.56, 0.677, (0.224, 0.133), 24),
    (0.010, (0.42, 0.252, 0.081), (0.601, 0.623), 0.657, 0.793, (0.161, 0.063), 27),
    (0.021, (0.52, 0.35, 0.183), (0.603, 0.625), 0.661, 0.798, (0.200, 0.100), 27),
    (0.020, (0.512, 0.342, 0.174), (0.624, 0.649), 0.680, 0.816, (0.195, 0.088), 27),
    (0.038, (0.418, 0.251, 0.088), (0.631, 0.657), 0.691, 0.838, (0.216, 0.102), 27),
    (0.025, (0.418, 0.251, 0.088), (0.577, 0.604), 0.642, 0.769, (0.188, 0.080), 27),
    (0.020, (0.426, 0.258, 0.088), (0.609, 0.635), 0.671, 0.816, (0.184, 0.074), 27),
    (0.025, (0.422, 0.254, 0.084), (0.569, 0.597), 0.635, 0.789, (0.182, 0.073), 27),
    (0.025, (0.416, 0.249, 0.078), (0.593, 0.622), 0.653, 0.787, (0.154, 0.059), 25),
]
KM_TXT = [(0.978, 0.773, 83), (0.979, 0.809, 741), (0.979, 0.714, 1397)]
RISK_ROWS_PX = (1702, 1717, 1731)

TOP = {
    'A': ((A_hi_t, A_hi_s, A_hi_c, A_hi_ut, A_hi_u, A_hi_lt, A_hi_l), (A_lo_t, A_lo_s, A_lo_c, A_lo_ut, A_lo_u, A_lo_lt, A_lo_l)),
    'B': ((B_hi_t, B_hi_s, B_hi_c, B_hi_ut, B_hi_u, B_hi_lt, B_hi_l), (B_lo_t, B_lo_s, B_lo_c, B_lo_ut, B_lo_u, B_lo_lt, B_lo_l)),
    'C': ((C_hi_t, C_hi_s, C_hi_c, C_hi_ut, C_hi_u, C_hi_lt, C_hi_l), (C_lo_t, C_lo_s, C_lo_c, C_lo_ut, C_lo_u, C_lo_lt, C_lo_l)),
    'D': ((D_hi_t, D_hi_s, D_hi_c, D_hi_ut, D_hi_u, D_hi_lt, D_hi_l), (D_lo_t, D_lo_s, D_lo_c, D_lo_ut, D_lo_u, D_lo_lt, D_lo_l)),
    'E': ((E_hi_t, E_hi_s, E_hi_c, E_hi_ut, E_hi_u, E_hi_lt, E_hi_l), (E_lo_t, E_lo_s, E_lo_c, E_lo_ut, E_lo_u, E_lo_lt, E_lo_l)),
    'F': ((F_hi_t, F_hi_s, F_hi_c, F_hi_ut, F_hi_u, F_hi_lt, F_hi_l), (F_lo_t, F_lo_s, F_lo_c, F_lo_ut, F_lo_u, F_lo_lt, F_lo_l)),
    'G': ((G_hi_t, G_hi_s, G_hi_c, G_hi_ut, G_hi_u, G_hi_lt, G_hi_l), (G_lo_t, G_lo_s, G_lo_c, G_lo_ut, G_lo_u, G_lo_lt, G_lo_l)),
    'H': ((H_hi_t, H_hi_s, H_hi_c, H_hi_ut, H_hi_u, H_hi_lt, H_hi_l), (H_lo_t, H_lo_s, H_lo_c, H_lo_ut, H_lo_u, H_lo_lt, H_lo_l)),
    'I': ((I_hi_t, I_hi_s, I_hi_c, I_hi_ut, I_hi_u, I_hi_lt, I_hi_l), (I_lo_t, I_lo_s, I_lo_c, I_lo_ut, I_lo_u, I_lo_lt, I_lo_l)),
}
BOTTOM = [((J_lo_t, J_lo_s, J_lo_c), (J_hi_t, J_hi_s, J_hi_c)),
          ((K_lo_t, K_lo_s, K_lo_c), (K_hi_t, K_hi_s, K_hi_c)),
          ((L_lo_t, L_lo_s, L_lo_c), (L_hi_t, L_hi_s, L_hi_c))]


def step_at(t, s, c):
    t = np.asarray(t, float)
    s = np.asarray(s, float)
    idx = np.clip(np.searchsorted(t, np.asarray(c, float), side='right') - 1, 0, len(s) - 1)
    return s[idx]


def axn(i):
    return '' if i == 1 else str(i)


def fx(px):
    return max(0.0, (px - OFF) / W)


def fy(py):
    return 1 - (py - OFF) / H


fig = go.Figure()
annotations, shapes = [], []
layout = {}

for i in range(1, 13):
    L, R, T, B = BOXES[i - 1]
    top = i <= 9
    k = axn(i)
    lc = 'black' if top else '#555555'
    lw = 2 if top else 1.2
    tf = dict(family=ARIAL, size=26 if top else 22, color='#111111' if top else '#222222')
    layout['xaxis' + k] = dict(
        domain=[fx(L), fx(R)], range=X_RANGES[i - 1], anchor='y' + k,
        tickvals=X_TICKS_TOP[i - 1] if top else X_TICKS_KM[i - 10],
        ticks='outside', ticklen=16 if top else 8, tickwidth=lw, tickcolor=lc,
        showline=True, linecolor=lc, linewidth=lw, mirror=True,
        showgrid=False, zeroline=False, ticklabelstandoff=8 if top else 0, tickfont=tf)
    layout['yaxis' + k] = dict(
        domain=[fy(B), fy(T)], range=[-0.04, 1.04], anchor='x' + k,
        tickvals=Y_TICKS, ticktext=Y_TICKTEXT_TOP if top else Y_TICKTEXT_KM, tickangle=-90,
        ticks='outside', ticklen=14 if top else 10, tickwidth=lw, tickcolor=lc,
        showline=True, linecolor=lc, linewidth=lw, mirror=True,
        showgrid=False, zeroline=False, ticklabelstandoff=9 if top else 1,
        tickfont=dict(family=ARIAL, size=26 if top else 21, color=tf['color']))
    lx, ly = LETTER_POS[i - 1]
    annotations.append(dict(text='<b>%s</b>' % PANEL_LETTERS[i - 1], x=fx(lx), y=fy(ly), xref='paper', yref='paper',
                            xanchor='left', yanchor='middle', showarrow=False,
                            font=dict(family=ARIAL, size=50, color='#0a0a14')))

# ---- top 9 KM panels ----
for i, key in enumerate(['A', 'B', 'C', 'D', 'E', 'F', 'G', 'H', 'I'], start=1):
    k = axn(i)
    xa, ya = 'x' + k, 'y' + k
    for grp, col in zip(TOP[key], (RED, BLUE)):
        t, s, c, ut, u, lt, l = grp
        for cx, cy in ((ut, u), (lt, l)):
            fig.add_trace(go.Scatter(x=cx, y=cy, mode='lines', xaxis=xa, yaxis=ya, hoverinfo='skip',
                                     line=dict(color=col, width=2, dash='2px,5px', shape='hv')))
        fig.add_trace(go.Scatter(x=t, y=s, mode='lines', xaxis=xa, yaxis=ya, hoverinfo='skip',
                                 line=dict(color=col, width=2, shape='hv')))
        fig.add_trace(go.Scatter(x=c, y=step_at(t, s, c), mode='markers', xaxis=xa, yaxis=ya, hoverinfo='skip',
                                 marker=dict(symbol='line-ns', size=17, line=dict(color=col, width=1.6))))
    gx, gys, (d0, d1), labx, nx, (rh, rl), lfs = TXT_POS[i - 1]
    xd, yd = xa + ' domain', ya + ' domain'
    for txt, yy in zip((GSE_NAMES[i - 1], SURV_TYPES[i - 1], P_TEXTS[i - 1]), gys):
        annotations.append(dict(text='<b>%s</b>' % txt, x=gx, y=yy, xref=xd, yref=yd, xanchor='left',
                                yanchor='middle', showarrow=False, font=dict(family=ARIAL, size=24, color='#111111')))
    for lab, n, yy, col in (('High', N_HIGH[i - 1], rh, RED), ('Low', N_LOW[i - 1], rl, BLUE)):
        shapes.append(dict(type='line', xref=xd, yref=yd, x0=d0, x1=d1, y0=yy, y1=yy,
                           line=dict(color=col, width=3)))
        annotations.append(dict(text=lab, x=labx, y=yy, xref=xd, yref=yd, xanchor='left', yanchor='middle',
                                showarrow=False, font=dict(family=ARIAL, size=lfs, color='#111111')))
        annotations.append(dict(text='n= %d' % n, x=nx, y=yy, xref=xd, yref=yd, xanchor='left',
                                yanchor='middle', showarrow=False, font=dict(family=ARIAL, size=lfs, color='#111111')))
    annotations.append(dict(text=X_TITLES[i - 1], x=0.5, y=0, xref=xd, yref=yd, yshift=-109, xanchor='center',
                            yanchor='middle', showarrow=False, font=dict(family=ARIAL, size=25, color='#111111')))

# ---- bottom 3 KM plotter panels ----
for j in range(3):
    i = 10 + j
    k = axn(i)
    xa, ya = 'x' + k, 'y' + k
    xd, yd = xa + ' domain', ya + ' domain'
    for (t, s, c), col in zip(BOTTOM[j], ('black', RED)):
        fig.add_trace(go.Scatter(x=t, y=s, mode='lines', xaxis=xa, yaxis=ya, hoverinfo='skip',
                                 line=dict(color=col, width=1.3)))
        fig.add_trace(go.Scatter(x=c, y=np.interp(c, t, s), mode='markers', xaxis=xa, yaxis=ya, hoverinfo='skip',
                                 marker=dict(symbol='cross-thin', size=9, line=dict(color=col, width=1.4))))
    hrx, epx, rowlab_px = KM_TXT[j]
    annotations.append(dict(text=HR_TEXTS[j], x=hrx, y=0.944, xref=xd, yref=yd, xanchor='right', yanchor='middle',
                            showarrow=False, font=dict(family=ARIAL, size=23, color='#222222')))
    annotations.append(dict(text=LOGRANK_TEXTS[j], x=hrx, y=0.882, xref=xd, yref=yd, xanchor='right',
                            yanchor='middle', showarrow=False, font=dict(family=ARIAL, size=23, color='#222222')))
    annotations.append(dict(text='<b>%s</b>' % ENDPOINTS[j], x=epx, y=0.183, xref=xd, yref=yd, xanchor='center',
                            yanchor='middle', showarrow=False, font=dict(family=ARIAL, size=40, color='#0a0a14')))
    annotations.append(dict(text='Expression', x=0.024, y=0.19, xref=xd, yref=yd, xanchor='left', yanchor='middle',
                            showarrow=False, font=dict(family=ARIAL, size=23, color='#222222')))
    for lab, col, yy in (('low', '#333333', 0.117), ('high', '#ff5555', 0.059)):
        shapes.append(dict(type='line', xref=xd, yref=yd, x0=0.04, x1=0.122, y0=yy, y1=yy,
                           line=dict(color=col, width=1.4)))
        annotations.append(dict(text=lab, x=0.162, y=yy, xref=xd, yref=yd, xanchor='left', yanchor='middle',
                                showarrow=False, font=dict(family=ARIAL, size=23, color='#222222')))
    annotations.append(dict(text='Time (months)', x=0.5, y=0, xref=xd, yref=yd, yshift=-54, xanchor='center',
                            yanchor='middle', showarrow=False, font=dict(family=ARIAL, size=23, color='#222222')))
    annotations.append(dict(text='Probability', x=0, y=0.5, xref=xd, yref=yd, xshift=-68, textangle=-90,
                            xanchor='center', yanchor='middle', showarrow=False,
                            font=dict(family=ARIAL, size=23, color='#222222')))
    L, R, T, B = BOXES[i - 1]
    annotations.append(dict(text='Number at risk', x=fx(L), y=fy(RISK_ROWS_PX[0]), xref='paper', yref='paper',
                            xanchor='left', yanchor='middle', showarrow=False,
                            font=dict(family=ARIAL, size=15, color='#333333')))
    for lab, vals, col, py in (('low', RISK_LOW[j], '#222222', RISK_ROWS_PX[1]),
                               ('high', RISK_HIGH[j], '#ff2222', RISK_ROWS_PX[2])):
        annotations.append(dict(text=lab, x=fx(rowlab_px), y=fy(py), xref='paper', yref='paper', xanchor='right',
                                yanchor='middle', showarrow=False, font=dict(family=ARIAL, size=15, color=col)))
        for tt, v in zip(RISK_TIMES[j], vals):
            annotations.append(dict(text=str(v), x=tt, y=fy(py), xref=xa, yref='paper', xanchor='center',
                                    yanchor='middle', showarrow=False, font=dict(family=ARIAL, size=15, color=col)))

fig.update_layout(width=W, height=H, margin=dict(l=0, r=0, t=0, b=0), showlegend=False,
                  paper_bgcolor='white', plot_bgcolor='white', annotations=annotations, shapes=shapes, **layout)
fig.write_html('out.html')
